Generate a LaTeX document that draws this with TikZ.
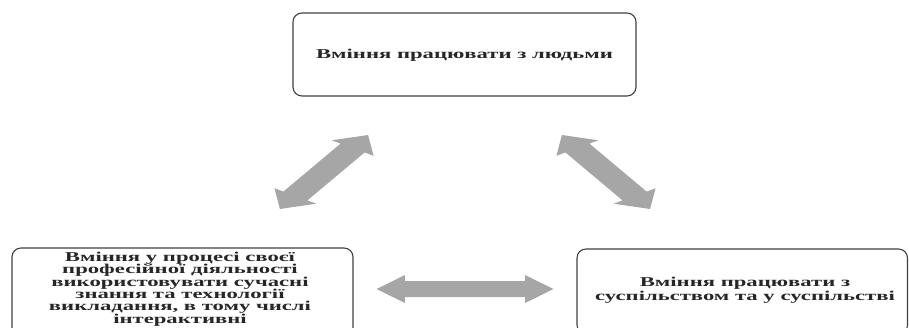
\documentclass[tikz,border=0pt]{standalone}
\usepackage{fontspec}
\setmainfont{Liberation Serif}[FakeStretch=1.68]
\definecolor{arrowgray}{HTML}{A6A6A6}
\definecolor{framegray}{HTML}{404040}
\tikzset{
  skillbox/.style={draw=framegray, line width=1.1pt, rounded corners=9pt},
  skilltext/.style={align=center, text=black!85},
  textA/.style={skilltext, font=\fontsize{13.5}{12.3}\selectfont\bfseries},
  textB/.style={skilltext, font=\fontsize{13.5}{14.5}\selectfont\bfseries},
  % double-headed block arrow of length #1 along the local x axis
  pics/dblarrow/.style={code={
    \fill[arrowgray] ({-#1/2},0) -- ({-#1/2+15.6},14) -- ({-#1/2+15.6},8)
      -- ({#1/2-15.6},8) -- ({#1/2-15.6},14) -- ({#1/2},0)
      -- ({#1/2-15.6},-14) -- ({#1/2-15.6},-8) -- ({-#1/2+15.6},-8)
      -- ({-#1/2+15.6},-14) -- cycle;
  }},
}
\begin{document}
\begin{tikzpicture}[x=1pt, y=-1pt]
  \useasboundingbox (0,0) rectangle (909,327);
  \clip (0,0) rectangle (909,327);

  % the three skill boxes
  \draw[skillbox] (293,13) rectangle (636,96);
  \node[textB] (people) at (464.5,55) {Вміння працювати з людьми};

  \draw[skillbox] (12,248) rectangle (353,345);
  \node[textA] (teach) at (180,289) {Вміння у процесі своєї\\професійної діяльності\\використовувати сучасні\\знання та технології\\викладання, в тому числі\\інтерактивні};

  \draw[skillbox] (577,249) rectangle (907.5,334);
  \node[textB] (society) at (745,290.5) {Вміння працювати з\\суспільством та у суспільстві};

  % block arrows between the boxes (drawn narrow, then widened)
  \coordinate (leftmid) at (324,172);
  \coordinate (rightmid) at (606,172);
  \coordinate (lowmid) at (465,289);
  \pic[xscale=1.8, rotate=56.5] at (leftmid) {dblarrow=88.7};
  \pic[xscale=1.8, rotate=-56.5] at (rightmid) {dblarrow=88.7};
  \pic[xscale=1.8] at (lowmid) {dblarrow=98.1};
\end{tikzpicture}
\end{document}
